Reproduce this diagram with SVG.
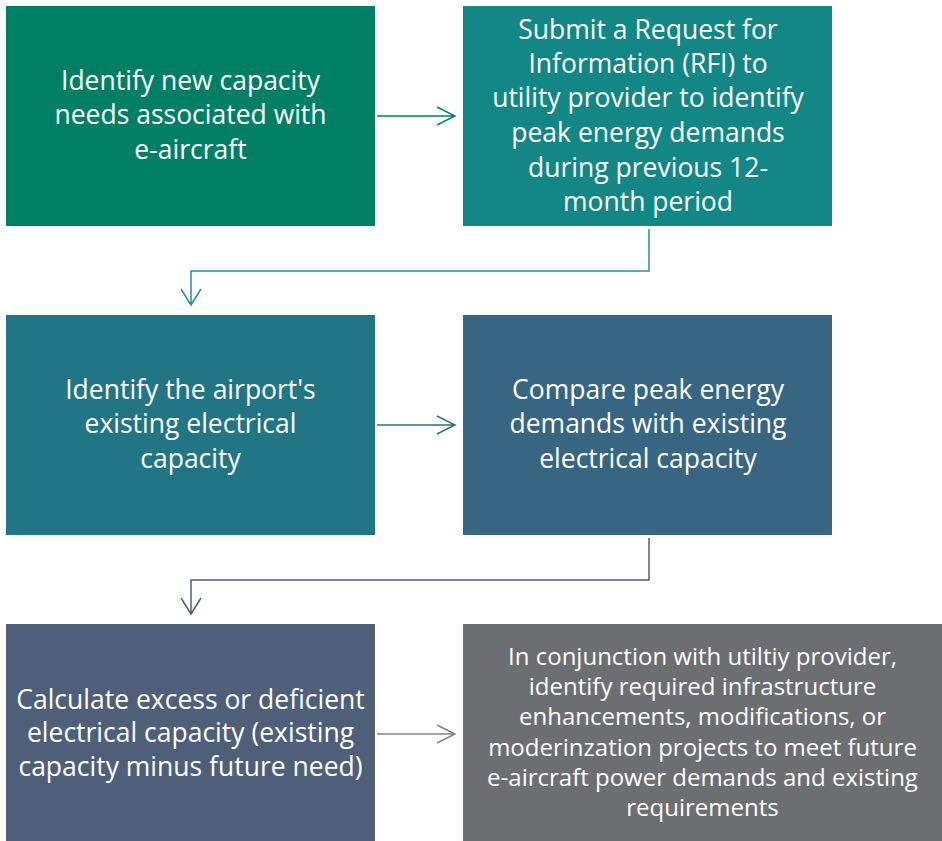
<svg xmlns="http://www.w3.org/2000/svg" width="942" height="841" viewBox="0 0 942 841">
<style>
text{font-family:"Open Sans","Liberation Sans",Arial,sans-serif;fill:#fff;text-anchor:middle;font-size:26.5px}
.s{font-size:24px}
.c{fill:none;stroke-width:1.5}
</style>
<rect width="942" height="841" fill="#fff"/>
<g id="n1"><rect x="6" y="6" width="369" height="220" fill="#007F65"/>
<text x="190.5" y="90">Identify new capacity</text><text x="190.5" y="124">needs associated with</text><text x="190.5" y="159">e-aircraft</text></g>
<g id="n2"><rect x="463" y="6" width="369" height="220" fill="#128786"/>
<text x="648" y="39">Submit a Request for</text><text x="648" y="73">Information (RFI) to</text><text x="648" y="107">utility provider to identify</text><text x="648" y="142">peak energy demands</text><text x="648" y="177">during previous 12-</text><text x="648" y="211">month period</text></g>
<g id="n3"><rect x="6" y="315" width="369" height="220" fill="#217584"/>
<text x="190.5" y="399">Identify the airport's</text><text x="190.5" y="433">existing electrical</text><text x="190.5" y="468">capacity</text></g>
<g id="n4"><rect x="463" y="315" width="369" height="220" fill="#386582"/>
<text x="648" y="399">Compare peak energy</text><text x="648" y="433">demands with existing</text><text x="648" y="468">electrical capacity</text></g>
<g id="n5"><rect x="6" y="624" width="369" height="217" fill="#4F5F79"/>
<text x="190.5" y="709">Calculate excess or deficient</text><text x="190.5" y="742">electrical capacity (existing</text><text x="190.5" y="776">capacity minus future need)</text></g>
<g id="n6"><rect x="463" y="624" width="479" height="217" fill="#6D6E71"/>
<text class="s" x="702.5" y="665">In conjunction with utiltiy provider,</text><text class="s" x="702.5" y="695">identify required infrastructure</text><text class="s" x="702.5" y="725">enhancements, modifications, or</text><text class="s" x="702.5" y="756">moderinzation projects to meet future</text><text class="s" x="702.5" y="786">e-aircraft power demands and existing</text><text class="s" x="702.5" y="816">requirements</text></g>
<g id="connectors">
<path class="c" stroke="#00806A" d="M377 116H455M437 107L455 116L437 125"/>
<path class="c" stroke="#2A9090" d="M649 229V271H191V305M181 289L191 305L201 289"/>
<path class="c" stroke="#2F7080" d="M377 425H455M437 416L455 425L437 434"/>
<path class="c" stroke="#4A6080" d="M649 538V580H191V614M181 598L191 614L201 598"/>
<path class="c" stroke="#858585" d="M377 734H455M437 725L455 734L437 743"/>
</g>
</svg>
